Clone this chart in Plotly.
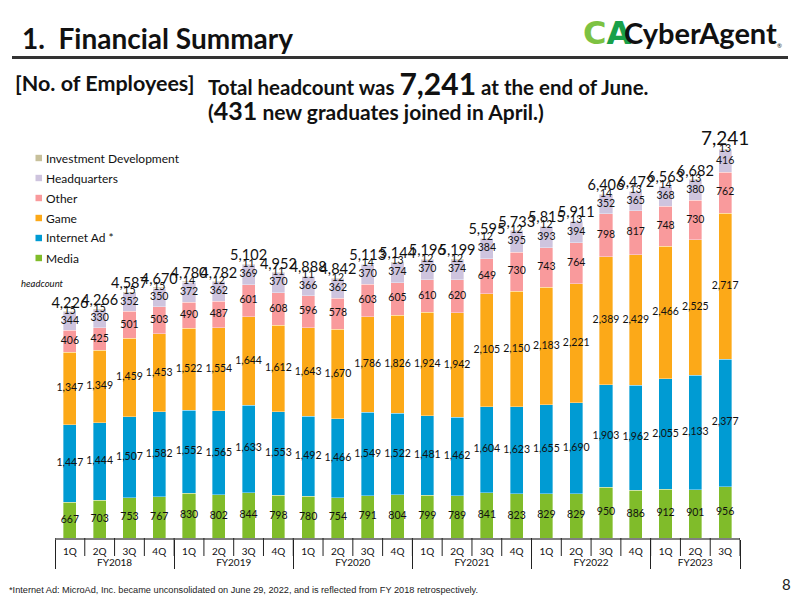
import plotly.graph_objects as go
import numpy as np

# ---------------- data ----------------
fiscal_years = ["FY2018"] * 4 + ["FY2019"] * 4 + ["FY2020"] * 4 + ["FY2021"] * 4 + ["FY2022"] * 4 + ["FY2023"] * 3
quarters = ["1Q", "2Q", "3Q", "4Q"] * 5 + ["1Q", "2Q", "3Q"]

media = [667, 703, 753, 767, 830, 802, 844, 798, 780, 754, 791, 804, 799, 789, 841, 823, 829, 829, 950, 886, 912, 901, 956]
internet_ad = [1447, 1444, 1507, 1582, 1552, 1565, 1633, 1553, 1492, 1466, 1549, 1522, 1481, 1462, 1604, 1623, 1655, 1690, 1903, 1962, 2055, 2133, 2377]
game = [1347, 1349, 1459, 1453, 1522, 1554, 1644, 1612, 1643, 1670, 1786, 1826, 1924, 1942, 2105, 2150, 2183, 2221, 2389, 2429, 2466, 2525, 2717]
other = [406, 425, 501, 503, 490, 487, 601, 608, 596, 578, 603, 605, 610, 620, 649, 730, 743, 764, 798, 817, 748, 730, 762]
headquarters = [344, 330, 352, 350, 372, 362, 369, 370, 366, 362, 370, 374, 370, 374, 384, 395, 393, 394, 352, 365, 368, 380, 416]
investment_dev = [15, 15, 15, 15, 14, 12, 11, 11, 11, 12, 14, 13, 12, 12, 12, 12, 12, 13, 14, 13, 14, 13, 13]
totals = [4226, 4266, 4587, 4670, 4780, 4782, 5102, 4952, 4888, 4842, 5113, 5144, 5196, 5199, 5595, 5733, 5815, 5911, 6406, 6472, 6563, 6682, 7241]

series_names = ["Media", "Internet Ad", "Game", "Other", "Headquarters", "Investment Development"]
legend_labels = ["Media", "Internet Ad *", "Game", "Other", "Headquarters", "Investment Development"]
series_values = [media, internet_ad, game, other, headquarters, investment_dev]
series_colors = ["#80bc2a", "#009bd3", "#fca918", "#f99a9c", "#cec4de", "#c7c09b"]

# ---------------- layout helpers ----------------
W, H = 800, 600
ML, MR, MT, MB = 55, 60, 130, 62
PW, PH = W - ML - MR, H - MT - MB


def px(x):
    return (x - ML) / PW


def py(y):
    return (H - MB - y) / PH


FONT = "Lato, 'Noto Sans', sans-serif"
x_cat = [fiscal_years, quarters]
n_cat = len(quarters)

fig = go.Figure()

vals = np.array(series_values, dtype=float)
bottoms = np.vstack([np.zeros(vals.shape[1]), np.cumsum(vals, axis=0)[:-1]])

for name, v, c in zip(series_names, series_values, series_colors):
    fig.add_trace(go.Bar(
        x=x_cat, y=v, name=name, marker=dict(color=c, line=dict(width=0.6, color="rgba(255,255,255,0.6)")),
        showlegend=False, hoverinfo="y+name",
    ))

# segment labels (centered in the first five segments)
for i in range(5):
    centers = bottoms[i] + vals[i] / 2
    fig.add_trace(go.Scatter(
        x=x_cat, y=centers, mode="text", text=[f"{int(v):,}" for v in vals[i]],
        textposition="middle center", textfont=dict(family=FONT, size=10.5, color="#111"),
        showlegend=False, hoverinfo="skip", cliponaxis=False,
    ))

# investment development labels at the top edge
fig.add_trace(go.Scatter(
    x=x_cat, y=np.array(totals, dtype=float), mode="text", text=[str(v) for v in investment_dev],
    textposition="middle center", textfont=dict(family=FONT, size=10.5, color="#111"),
    showlegend=False, hoverinfo="skip", cliponaxis=False,
))

# totals
tot_sizes = [14.5] * (len(totals) - 1) + [19]
fig.add_trace(go.Scatter(
    x=x_cat, y=totals, mode="text", text=[f"{v:,}" for v in totals],
    textposition="top center", textfont=dict(family=FONT, size=tot_sizes, color="#111"),
    showlegend=False, hoverinfo="skip", cliponaxis=False,
))

annotations = []
shapes = []

# quarter dividers below the axis (between every category)
for k in range(n_cat + 1):
    shapes.append(dict(type="line", xref="x", yref="paper", x0=k - 0.5, x1=k - 0.5, y0=0, y1=py(556),
                       line=dict(color="#222", width=1)))

# title & rule
annotations.append(dict(x=px(20), y=py(38), xref="paper", yref="paper", xanchor="left", yanchor="middle",
                        text="1.  Financial Summary", showarrow=False,
                        font=dict(family=FONT, size=28, color="#111", weight="bold")))
shapes.append(dict(type="line", xref="paper", yref="paper", x0=px(12), x1=px(788), y0=py(57.5), y1=py(57.5),
                   line=dict(color="#333", width=3)))

# logo
annotations.append(dict(x=px(581), y=py(33), xref="paper", yref="paper", xanchor="left", yanchor="middle",
                        text="<b><span style='color:#7dc242'>C</span><span style='color:#19a049'>A</span></b>",
                        showarrow=False, font=dict(family="'DejaVu Sans', sans-serif", size=32)))
annotations.append(dict(x=px(622), y=py(33), xref="paper", yref="paper", xanchor="left", yanchor="middle",
                        text="<b>CyberAgent</b>", showarrow=False,
                        font=dict(family=FONT, size=29, color="#111")))
annotations.append(dict(x=px(775), y=py(45), xref="paper", yref="paper", xanchor="left", yanchor="middle",
                        text="®", showarrow=False, font=dict(family=FONT, size=6, color="#111")))

# subtitle
annotations.append(dict(x=px(13), y=py(83), xref="paper", yref="paper", xanchor="left", yanchor="middle",
                        text="[No. of Employees]", showarrow=False,
                        font=dict(family=FONT, size=21.5, color="#111", weight="bold")))
annotations.append(dict(x=px(206), y=py(83), xref="paper", yref="paper", xanchor="left", yanchor="middle",
                        text="Total headcount was <span style='font-size:30px'>7,241</span> at the end of June.",
                        showarrow=False, font=dict(family=FONT, size=20.5, color="#111", weight="bold")))
annotations.append(dict(x=px(206), y=py(110), xref="paper", yref="paper", xanchor="left", yanchor="middle",
                        text="(<span style='font-size:25px'>431</span> new graduates joined in April.)",
                        showarrow=False, font=dict(family=FONT, size=21, color="#111", weight="bold")))

# manual legend (top to bottom)
leg_y0, leg_dy = 158, 20
for k, idx in enumerate(range(5, -1, -1)):
    yy = leg_y0 + k * leg_dy
    shapes.append(dict(type="rect", xref="paper", yref="paper", x0=px(35.5), x1=px(42), y0=py(yy + 3.2), y1=py(yy - 3.2),
                       fillcolor=series_colors[idx], line=dict(width=0)))
    annotations.append(dict(x=px(44), y=py(yy), xref="paper", yref="paper", xanchor="left", yanchor="middle",
                            text=legend_labels[idx], showarrow=False,
                            font=dict(family=FONT, size=12, color="#111")))

annotations.append(dict(x=px(19), y=py(283), xref="paper", yref="paper", xanchor="left", yanchor="middle",
                        text="<i>headcount</i>", showarrow=False, font=dict(family=FONT, size=9.5, color="#111")))

# footnote & page number
annotations.append(dict(x=px(7), y=py(590), xref="paper", yref="paper", xanchor="left", yanchor="middle",
                        text="*Internet Ad: MicroAd, Inc. became unconsolidated on June 29, 2022, and is reflected from FY 2018 retrospectively.",
                        showarrow=False, font=dict(family="'Liberation Sans Narrow', 'Arial Narrow', sans-serif", size=9.2, color="#222")))
annotations.append(dict(x=px(793), y=py(584), xref="paper", yref="paper", xanchor="right", yanchor="middle",
                        text="8", showarrow=False, font=dict(family=FONT, size=15, color="#222")))

fig.update_layout(
    width=W, height=H, margin=dict(l=ML, r=MR, t=MT, b=MB, pad=0),
    paper_bgcolor="white", plot_bgcolor="white",
    barmode="stack", bargap=0.56,
    showlegend=False,
    annotations=annotations, shapes=shapes,
    font=dict(family=FONT, color="#111"),
)
fig.update_xaxes(
    type="multicategory", range=[-0.5, n_cat - 0.5], autorange=False,
    showline=True, linecolor="#808080", linewidth=2,
    ticks="", ticklabelstandoff=3,
    showdividers=True, dividercolor="#222", dividerwidth=1,
    tickfont=dict(family=FONT, size=10, color="#111"),
    showgrid=False, zeroline=False,
)
fig.update_yaxes(range=[0, 7600], visible=False, showgrid=False, zeroline=False)

fig.write_html("out.html")
